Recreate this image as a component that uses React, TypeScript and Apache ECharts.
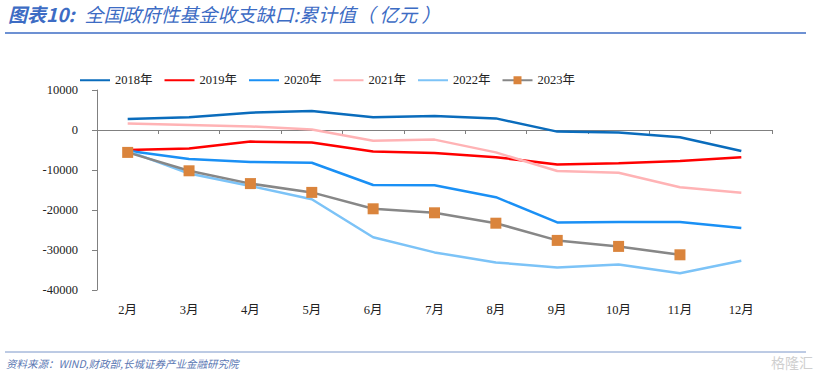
import React, { useEffect, useRef } from "react";
import * as echarts from "echarts";

const months = ["2月", "3月", "4月", "5月", "6月", "7月", "8月", "9月", "10月", "11月", "12月"];
const yTicks = { min: -40000, max: 10000, interval: 10000 };

const s2018 = [2750, 3170, 4330, 4750, 3170, 3500, 2900, -400, -600, -1800, -5250];
const s2019 = [-5000, -4600, -2900, -3100, -5400, -5750, -6800, -8600, -8300, -7750, -6800];
const s2020 = [-5200, -7250, -8000, -8200, -13750, -13800, -16800, -23100, -23000, -23000, -24500];
const s2021 = [1600, 1250, 900, 150, -2700, -2400, -5600, -10250, -10700, -14300, -15700];
const s2022 = [-5200, -10900, -14000, -17300, -26800, -30600, -33100, -34400, -33600, -35800, -32700];
const s2023 = [-5600, -10200, -13400, -15600, -19700, -20700, -23300, -27600, -29100, -31200, null];

const seriesNames = ["2018年", "2019年", "2020年", "2021年", "2022年", "2023年"];
const seriesColors = ["#0a6cbc", "#ff0000", "#1a90f5", "#ffb3b5", "#7cc3f7", "#878787"];

const SERIF = "'Liberation Serif', 'Times New Roman', 'Noto Sans CJK SC', serif";
const CJK = "'Noto Sans CJK SC', sans-serif";

export default function App() {
  const ref = useRef<HTMLDivElement>(null);
  useEffect(() => {
    if (!ref.current) return;
    const chart = echarts.init(ref.current, null, { renderer: "svg" });
    const data = [s2018, s2019, s2020, s2021, s2022, s2023];
    const series: any[] = data.map((d, i) => ({
      name: seriesNames[i],
      type: "line",
      data: d,
      xAxisIndex: 0,
      yAxisIndex: 0,
      color: seriesColors[i],
      lineStyle: { color: seriesColors[i], width: 2.5 },
      itemStyle: { color: i === 5 ? "#da843c" : seriesColors[i] },
      symbol: i === 5 ? "rect" : "none",
      symbolSize: 11,
      showSymbol: i === 5,
      z: 2 + (i === 5 ? 5 : i),
    }));
    chart.setOption({
      animation: false,
      backgroundColor: "#ffffff",
      grid: { left: 97, right: 47, top: 90, bottom: 88, containLabel: false },
      legend: {
        left: 74,
        top: 69,
        itemWidth: 30,
        itemHeight: 10,
        itemGap: 11,
        data: seriesNames.map((n, i) =>
          i === 5 ? { name: n } : { name: n, itemStyle: { opacity: 0 } }
        ),
        textStyle: { fontFamily: SERIF, fontSize: 12.5, color: "#222" },
      },
      xAxis: [
        {
          type: "category",
          data: months,
          position: "bottom",
          boundaryGap: true,
          axisLine: { show: false, onZero: false },
          axisTick: { show: false },
          axisLabel: { fontFamily: SERIF, fontSize: 12.5, color: "#222", margin: 14 },
        },
        {
          type: "category",
          data: months,
          position: "bottom",
          boundaryGap: true,
          axisLine: { show: true, onZero: true, lineStyle: { color: "#808080", width: 1 } },
          axisTick: { show: true, length: 4, lineStyle: { color: "#808080" } },
          axisLabel: { show: false },
        },
      ],
      yAxis: {
        type: "value",
        min: yTicks.min,
        max: yTicks.max,
        interval: yTicks.interval,
        axisLine: { show: true, lineStyle: { color: "#808080" } },
        axisTick: { show: true, length: 5, lineStyle: { color: "#808080" } },
        splitLine: { show: false },
        axisLabel: {
          fontFamily: SERIF,
          fontSize: 12.5,
          color: "#222",
          margin: 19,
          formatter: (v: number) => String(v),
        },
      },
      series,
      graphic: [
        {
          type: "text",
          left: 8,
          top: 4,
          style: {
            text: "{a|图表10:}   {b|全国政府性基金收支缺口:累计值（ 亿元 ）}",
            rich: {
              a: { fontFamily: CJK, fontSize: 19, fontStyle: "italic", fontWeight: "bold", fill: "#3d6cc4" },
              b: { fontFamily: CJK, fontSize: 19, fontStyle: "italic", fill: "#3d6cc4" },
            },
          },
        },
        {
          type: "line",
          shape: { x1: 5, y1: 33, x2: 806, y2: 33 },
          style: { stroke: "#3d6cc4", lineWidth: 1.5 },
        },
        {
          type: "line",
          shape: { x1: 5, y1: 352, x2: 806, y2: 352 },
          style: { stroke: "#7b96c9", lineWidth: 1 },
        },
        {
          type: "text",
          left: 6,
          top: 358,
          style: {
            text: "资料来源：WIND,财政部,长城证券产业金融研究院",
            fontFamily: CJK,
            fontSize: 10.5,
            fontStyle: "italic",
            fill: "#5a77b3",
          },
        },
        {
          type: "text",
          right: 6,
          top: 355,
          style: {
            text: "格隆汇",
            fontFamily: CJK,
            fontSize: 14,
            fill: "#cfcfcf",
          },
        },
      ],
    });
    return () => chart.dispose();
  }, []);
  return <div ref={ref} style={{ width: 819, height: 378, position: "absolute", left: 0, top: 0 }} />;
}
